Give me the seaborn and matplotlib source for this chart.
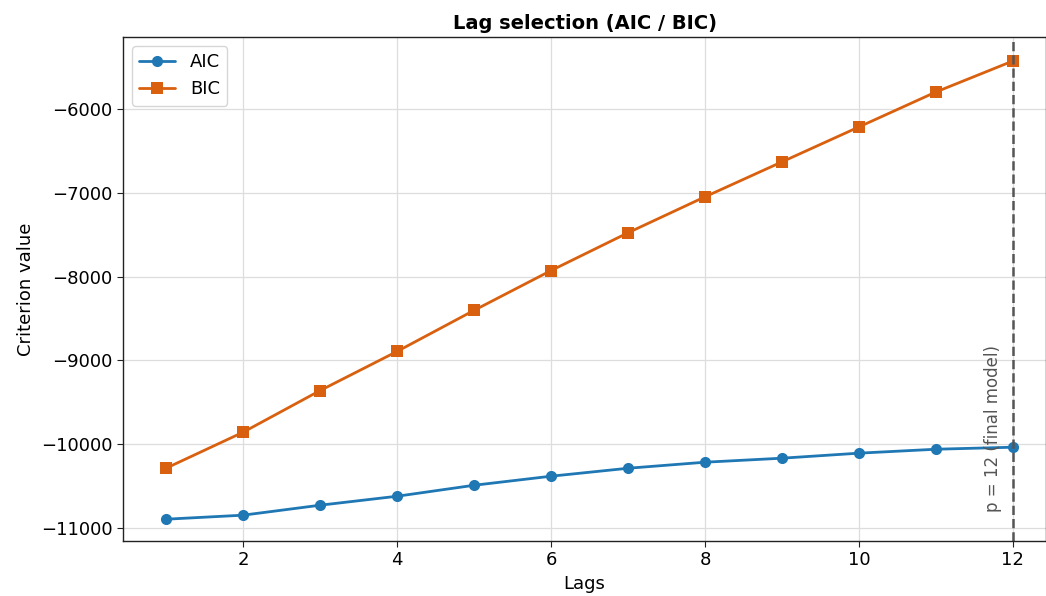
import pandas as pd
import matplotlib
matplotlib.use("Agg")
import matplotlib.pyplot as plt
import seaborn as sns

lags = list(range(1, 13))
aic = [-10895, -10847, -10728, -10621, -10490, -10382, -10287, -10215, -10167, -10107, -10060, -10036]
bic = [-10286, -9857, -9360, -8893, -8403, -7928, -7477, -7048, -6631, -6214, -5797, -5427]
final_p = 12

df = pd.DataFrame({"Lags": lags, "AIC": aic, "BIC": bic})

sns.set_style("ticks")
plt.rcParams['font.family'] = ['DejaVu Sans']
plt.rcParams.update({
    "text.color": "black",
    "axes.labelcolor": "black",
    "xtick.color": "black",
    "ytick.color": "black",
})

fig = plt.figure(figsize=(10.46, 5.96), dpi=100)
ax = fig.add_axes([0.1176, 0.0923, 0.8824, 0.8456])

sns.lineplot(data=df, x="Lags", y="AIC", ax=ax, color="#1f77b4", marker="o",
             markersize=8, markeredgewidth=0, linewidth=2, label="AIC")
sns.lineplot(data=df, x="Lags", y="BIC", ax=ax, color="#d9600e", marker="s",
             markersize=8, markeredgewidth=0, linewidth=2, label="BIC")

ax.axvline(final_p, color="#555555", linestyle="--", linewidth=1.8)
ax.text(final_p - 0.26, -10815, f"p = {final_p} (final model)", rotation=90,
        ha="center", va="bottom", color="#555555", fontsize=12)

ax.set_xlim(0.44, 12.43)
ax.set_ylim(-11155, -5141)
ax.grid(True, color="#dddddd", linewidth=0.9)
ax.set_axisbelow(True)
for s in ax.spines.values():
    s.set_color("#222222")
    s.set_linewidth(1.0)
ax.tick_params(labelsize=13, length=4, color="#222222")

ax.set_title("Lag selection (AIC / BIC)", fontsize=14, fontweight="bold")
ax.set_xlabel("Lags", fontsize=13)
ax.set_ylabel("Criterion value", fontsize=13)
ax.legend(loc="upper left", fontsize=13, frameon=True)

fig.savefig("out.png", dpi=100)
